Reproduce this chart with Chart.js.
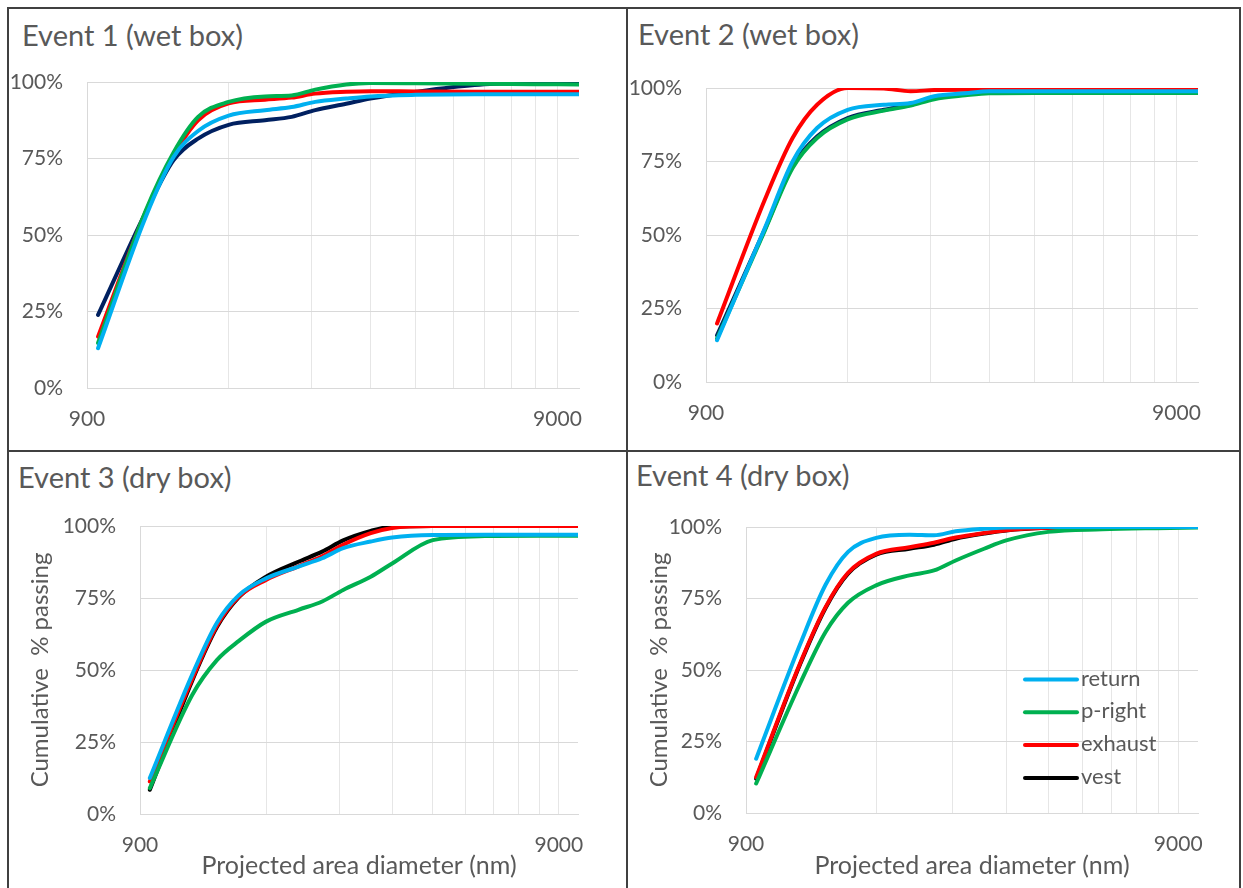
<!DOCTYPE html>
<html><head><meta charset="utf-8">
<script src="https://cdn.jsdelivr.net/npm/chart.js@4.4.0/dist/chart.umd.min.js"></script>
<style>
html,body{margin:0;padding:0;background:#fff;width:1243px;height:888px;overflow:hidden;font-family:Lato,sans-serif;}
.frame{position:absolute;left:7px;top:7px;width:1234px;height:900px;border:2px solid #404040;box-sizing:border-box;}
.vline{position:absolute;left:626px;top:7px;width:2px;height:900px;background:#404040;}
.hline{position:absolute;left:7px;top:450px;width:1234px;height:2px;background:#404040;}
.panel{position:absolute;}
.title{position:absolute;font-size:29px;color:#595959;white-space:nowrap;line-height:34px;}
</style></head><body>
<div class="frame"></div><div class="vline"></div><div class="hline"></div>
<script>
// ---- data ----
const diameters = [950, 1200, 1375, 1550, 1800, 2150, 2450, 2750, 3200, 3600, 4500, 6000, 8000, 10000];
const seriesNames = ['return', 'p-right', 'exhaust', 'vest'];
const panelTitles = ['Event 1 (wet box)', 'Event 2 (wet box)', 'Event 3 (dry box)', 'Event 4 (dry box)'];
const xTickLabels = [900, 9000];
const xGridValues = [900, 1800, 2700, 3600, 4500, 5400, 6300, 7200, 8100, 9000];
const yTickValues = [0, 25, 50, 75, 100];
const xAxisTitle = 'Projected area diameter (nm)';
const yAxisTitle = 'Cumulative  % passing';

const e1Return  = [13.0, 56.0, 75.5, 84.0, 89.0, 90.8, 91.8, 93.5, 94.6, 95.3, 95.8, 96.0, 96.0, 96.0];
const e1PRight  = [14.7, 58.0, 77.0, 88.6, 93.5, 95.3, 95.6, 97.5, 99.2, 99.7, 99.6, 99.4, 99.3, 99.2];
const e1Exhaust = [16.8, 57.6, 76.0, 87.5, 93.0, 94.2, 94.9, 96.2, 96.8, 97.0, 96.9, 96.8, 96.8, 96.8];
const e1Vest    = [23.9, 57.5, 74.5, 81.5, 86.0, 87.5, 88.6, 90.8, 92.9, 94.6, 96.8, 99.0, 99.8, 100];

const e2Return  = [14.2, 52.3, 75.0, 86.4, 92.6, 94.3, 94.9, 97.2, 98.2, 98.9, 98.9, 98.9, 98.9, 98.9];
const e2PRight  = [14.8, 51.5, 72.8, 83.0, 89.3, 92.3, 94.0, 96.2, 97.5, 98.2, 98.3, 98.3, 98.3, 98.3];
const e2Exhaust = [19.9, 62.0, 83.0, 94.3, 100, 99.8, 98.9, 99.3, 99.4, 99.4, 99.4, 99.4, 99.4, 99.4];
const e2Vest    = [15.9, 51.9, 73.5, 83.5, 89.8, 92.6, 94.3, 96.6, 98.0, 99.1, 99.3, 99.3, 99.3, 99.3];

const e3Return  = [12.5, 48.5, 66.5, 76.0, 81.8, 85.9, 88.8, 92.3, 94.6, 96.0, 96.9, 97.0, 97.0, 97.0];
const e3PRight  = [9.0, 41.4, 53.5, 60.1, 66.8, 70.9, 73.8, 77.8, 82.4, 87.0, 95.1, 96.5, 96.6, 96.6];
const e3Exhaust = [11.3, 47.0, 65.5, 75.5, 81.3, 86.0, 89.5, 93.5, 97.5, 99.3, 100, 100, 100, 100];
const e3Vest    = [8.4, 46.4, 65.0, 75.3, 82.4, 87.6, 91.1, 95.0, 98.3, 99.8, 100, 100, 100, 100];

const e4Return  = [19.0, 58.9, 79.8, 91.3, 96.2, 97.3, 97.1, 98.5, 99.4, 99.8, 100, 100, 100, 100];
const e4PRight  = [10.3, 45.2, 63.3, 73.5, 79.6, 83.1, 84.8, 88.3, 92.4, 95.3, 98.3, 99.2, 99.6, 99.8];
const e4Exhaust = [12.5, 52.3, 72.0, 84.0, 90.6, 92.9, 94.5, 96.3, 97.9, 98.9, 99.7, 100, 100, 100];
const e4Vest    = [12.0, 51.9, 71.7, 83.7, 90.3, 92.4, 93.8, 95.9, 97.7, 98.8, 99.7, 100, 100, 100];

// ---- styles / layout ----
const colReturn = '#00B0F0', colPRight = '#00B050', colExhaust = '#FF0000';
const TXT = '#595959';
Chart.defaults.font.family = 'Lato, sans-serif';
Chart.defaults.color = TXT;

const panels = [
  {series:[e1Return, e1PRight, e1Exhaust, e1Vest], vest:'#002060', box:{l:9, t:9, w:617, h:441}, plot:{L:87, R:579, T:82, B:388}, title:{x:22, y:18}, axisTitles:false, legend:false},
  {series:[e2Return, e2PRight, e2Exhaust, e2Vest], vest:'#002060', box:{l:628, t:9, w:611, h:441}, plot:{L:706, R:1198, T:88, B:382}, title:{x:638, y:17}, axisTitles:false, legend:false},
  {series:[e3Return, e3PRight, e3Exhaust, e3Vest], vest:'#000000', box:{l:9, t:452, w:617, h:436}, plot:{L:140, R:578, T:526, B:814}, title:{x:18, y:460}, axisTitles:true, legend:false},
  {series:[e4Return, e4PRight, e4Exhaust, e4Vest], vest:'#000000', box:{l:628, t:452, w:611, h:436}, plot:{L:746, R:1198, T:527, B:813}, title:{x:636, y:458}, axisTitles:true, legend:true}
];

const insideLegend = {
  id: 'insideLegend',
  afterDatasetsDraw(chart, args, opts) {
    if (!opts.show) return;
    const ctx = chart.ctx, ca = chart.chartArea;
    ctx.save();
    chart.data.datasets.forEach((ds, i) => {
      const y = ca.top + opts.top + i * opts.step;
      const x0 = ca.left + opts.left;
      ctx.strokeStyle = ds.borderColor;
      ctx.lineWidth = 4;
      ctx.lineCap = 'round';
      ctx.beginPath(); ctx.moveTo(x0, y); ctx.lineTo(x0 + opts.lineLen, y); ctx.stroke();
      ctx.fillStyle = TXT;
      ctx.font = opts.fontSize + 'px Lato, sans-serif';
      ctx.textBaseline = 'middle';
      ctx.textAlign = 'left';
      ctx.fillText(ds.label, x0 + opts.lineLen + opts.gap, y - 1);
    });
    ctx.restore();
  }
};

panels.forEach((p, idx) => {
  const t = document.createElement('div');
  t.className = 'title';
  t.style.left = p.title.x + 'px';
  t.style.top = p.title.y + 'px';
  t.textContent = panelTitles[idx];
  document.body.appendChild(t);

  const wrap = document.createElement('div');
  wrap.className = 'panel';
  wrap.style.left = p.box.l + 'px'; wrap.style.top = p.box.t + 'px';
  wrap.style.width = p.box.w + 'px'; wrap.style.height = p.box.h + 'px';
  const cv = document.createElement('canvas');
  cv.width = p.box.w; cv.height = p.box.h;
  cv.style.width = p.box.w + 'px'; cv.style.height = p.box.h + 'px';
  wrap.appendChild(cv);
  document.body.appendChild(wrap);

  const plotL = p.plot.L - p.box.l, plotR = p.plot.R - p.box.l;
  const plotT = p.plot.T - p.box.t, plotB = p.plot.B - p.box.t;
  const colors = [colReturn, colPRight, colExhaust, p.vest];

  new Chart(cv, {
    type: 'line',
    data: {
      datasets: p.series.map((arr, i) => ({
        label: seriesNames[i],
        data: diameters.map((d, k) => ({x: d, y: arr[k]})),
        borderColor: colors[i],
        backgroundColor: colors[i],
        borderWidth: 4,
        pointRadius: 0,
        fill: false,
        cubicInterpolationMode: 'monotone',
        borderCapStyle: 'round',
        borderJoinStyle: 'round'
      }))
    },
    options: {
      responsive: false,
      animation: false,
      devicePixelRatio: 1,
      layout: {autoPadding: false, padding: {left: 0, top: plotT, right: p.box.w - plotR, bottom: 0}},
      plugins: {
        legend: {display: false},
        tooltip: {enabled: false},
        insideLegend: {show: p.legend, left: 279, top: 152.5, step: 32.8, lineLen: 52, gap: 4, fontSize: 22}
      },
      scales: {
        x: {
          type: 'logarithmic', min: 900, max: 10000,
          afterBuildTicks: s => { s.ticks = xGridValues.map(v => ({value: v})); },
          afterFit: s => { s.height = p.box.h - plotB; },
          ticks: {autoSkip: false, maxRotation: 0, minRotation: 0, padding: 19, color: TXT, font: {size: 21},
                  callback: v => xTickLabels.includes(v) ? String(v) : ''},
          grid: {color: '#E6E6E6', lineWidth: 1, drawTicks: false},
          border: {color: '#D9D9D9', width: 1},
          title: {display: p.axisTitles, text: xAxisTitle, color: TXT, font: {size: 25}, padding: {top: 0, bottom: 7}}
        },
        y: {
          min: 0, max: 100,
          afterBuildTicks: s => { s.ticks = yTickValues.map(v => ({value: v})); },
          afterFit: s => { s.width = plotL; },
          ticks: {padding: 24, color: TXT, font: {size: 21}, callback: v => v + '%'},
          grid: {color: '#D9D9D9', lineWidth: 1, drawTicks: false},
          border: {color: '#D9D9D9', width: 1},
          title: {display: p.axisTitles, text: yAxisTitle, color: TXT, font: {size: 24}, padding: {top: 17, bottom: 0}}
        }
      }
    },
    plugins: [insideLegend]
  });
});
</script>
</body></html>
